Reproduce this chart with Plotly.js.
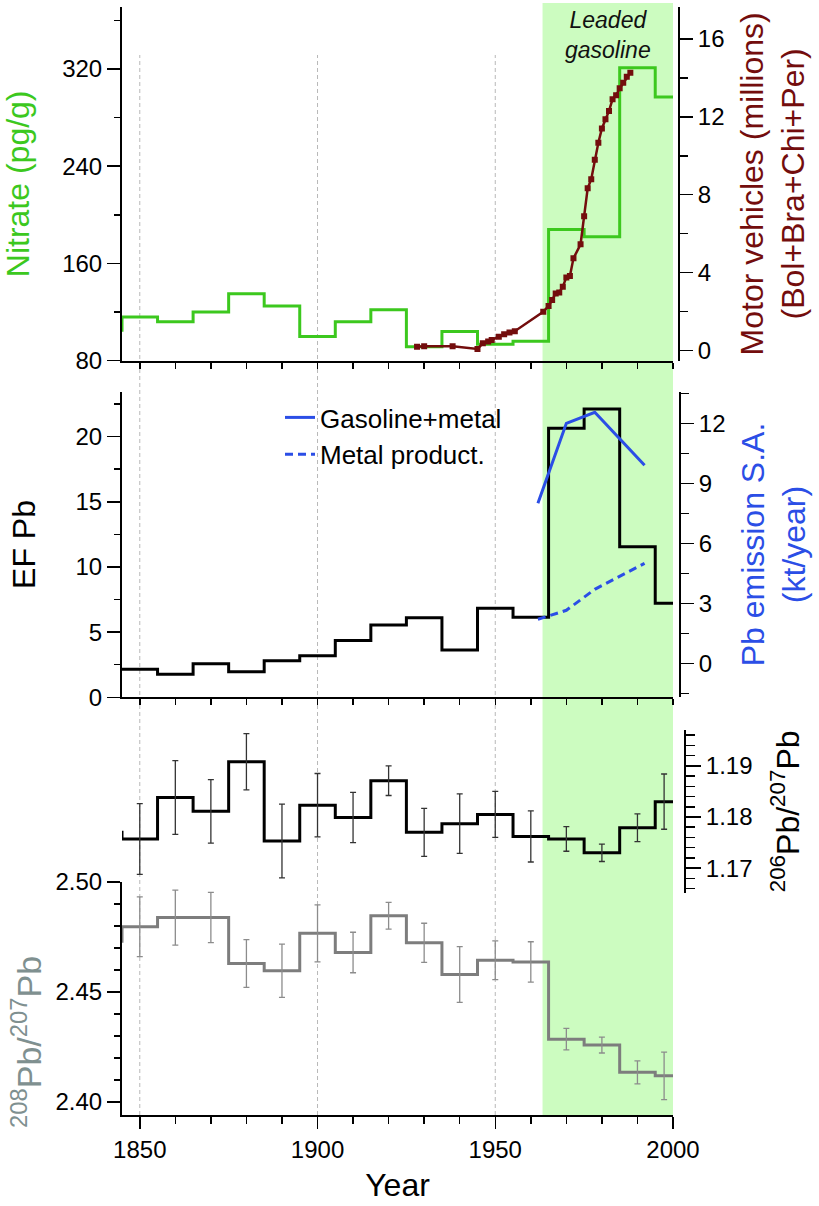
<!DOCTYPE html>
<html>
<head>
<meta charset="utf-8">
<script src="https://cdn.plot.ly/plotly-3.0.1.min.js"></script>
<style>html,body{margin:0;padding:0;background:#fff;}#chart{width:819px;height:1206px;}</style>
</head>
<body>
<div id="chart"></div>
<script>
// ---- data ----
// step bins (left edges); first is a bin before 1845 clipped by the axis, last repeats the final value
const binEdges = [1835,1845,1855,1865,1875,1885,1895,1905,1915,1925,1935,1945,1955,1965,1975,1985,1995,2005];
const nitrate  = [105,116,112,120,135,125,100,112,122,91.5,104,93.5,96,188,182,321,297,297];
const efPb     = [2.15,2.15,1.77,2.58,1.97,2.81,3.19,4.35,5.55,6.11,3.63,6.83,6.14,20.64,22.13,11.56,7.21,7.21];
const pb206    = [1.1770,1.1757,1.1838,1.1811,1.1908,1.1753,1.1823,1.1799,1.1871,1.1770,1.1787,1.1805,1.1762,1.1757,1.1730,1.1779,1.1830,1.1830];
const pb208    = [2.473,2.4796,2.4838,2.4838,2.4629,2.4596,2.4766,2.4679,2.4846,2.4723,2.4579,2.4644,2.4636,2.4285,2.4258,2.4134,2.4118,2.4118];

// sample years (bin centres) and uncertainties for the isotope ratios
const sampleYears = [1850,1860,1870,1880,1890,1900,1910,1920,1930,1940,1950,1960,1970,1980,1990,1997.5];
const pb206Err = [0.0069,0.0072,0.0062,0.0055,0.0072,0.0062,0.0049,0.0029,0.0047,0.0058,0.0045,0.0050,0.0024,0.0017,0.0027,0.0054];
const pb208Err = [0.0136,0.0125,0.0114,0.0109,0.0121,0.0130,0.0092,0.0061,0.0089,0.0127,0.0088,0.0092,0.0049,0.0036,0.0052,0.0108];

// motor vehicles (millions), Bol+Bra+Chi+Per
const mvYear = [1928,1930,1938,1945,1946.5,1948,1949,1951,1952.5,1954,1955.5,1963.5,1965,1966,1967,1968,1969,1970,1971,1972,1974,1975,1976,1977,1978,1979,1980,1981,1982,1983,1984,1985,1986,1987,1988];
const mvVal  = [0.20,0.23,0.23,0.09,0.38,0.47,0.55,0.72,0.84,0.93,1.00,2.00,2.29,2.60,2.94,2.99,3.28,3.76,3.83,4.74,5.46,6.90,8.33,8.80,9.80,10.67,11.40,11.87,12.30,12.90,13.10,13.46,13.74,14.05,14.26];

// Pb emission South America (kt/year)
const pbYear    = [1962,1970,1978,1992];
const gasMetal  = [8.0,12.0,12.55,9.9];
const metalProd = [2.2,2.65,3.7,5.0];

const gridYears = [1850,1900,1950];
const leadedStart = 1963.3, leadedEnd = 2000;

// ---- styling ----
const FONT = 'Liberation Sans, Arial, Helvetica, sans-serif';
const GREEN = '#3cc81e', DARKRED = '#730d0d', BLUE = '#2b4ee6', GRAY = '#7d7d7d', GRAYT = '#7f9090';

const sampleIdx = sampleYears.map((_, i) => i + 1);
const traces = [
  {x: binEdges, y: nitrate, xaxis: 'x', yaxis: 'y', mode: 'lines', line: {shape: 'hv', color: GREEN, width: 3}, showlegend: false},
  {x: mvYear, y: mvVal, xaxis: 'x', yaxis: 'y2', mode: 'lines+markers', line: {color: DARKRED, width: 2.5}, marker: {symbol: 'square', size: 6, color: DARKRED}, showlegend: false},
  {x: binEdges, y: efPb, xaxis: 'x2', yaxis: 'y3', mode: 'lines', line: {shape: 'hv', color: '#000', width: 3}, showlegend: false},
  {x: pbYear, y: gasMetal, xaxis: 'x2', yaxis: 'y4', mode: 'lines', name: 'Gasoline+metal', line: {color: BLUE, width: 3}},
  {x: pbYear, y: metalProd, xaxis: 'x2', yaxis: 'y4', mode: 'lines', name: 'Metal product.', line: {color: BLUE, width: 3, dash: '8px,5px'}},
  {x: binEdges, y: pb208, xaxis: 'x3', yaxis: 'y5', mode: 'lines', line: {shape: 'hv', color: GRAY, width: 3}, showlegend: false},
  {x: sampleYears, y: sampleIdx.map(i => pb208[i]), xaxis: 'x3', yaxis: 'y5', mode: 'markers', marker: {size: 1, opacity: 0},
   error_y: {type: 'data', array: pb208Err, visible: true, color: '#8c8c8c', thickness: 1.3, width: 3}, showlegend: false},
  {x: binEdges, y: pb206, xaxis: 'x3', yaxis: 'y6', mode: 'lines', line: {shape: 'hv', color: '#000', width: 3}, showlegend: false},
  {x: sampleYears, y: sampleIdx.map(i => pb206[i]), xaxis: 'x3', yaxis: 'y6', mode: 'markers', marker: {size: 1, opacity: 0},
   error_y: {type: 'data', array: pb206Err, visible: true, color: '#333', thickness: 1.3, width: 3}, showlegend: false}
];

const H = 1115; // plot area height in px (t = 0)
const py = v => (H - v) / H;
const XDOM = [0, 551 / 563];
const tickFont = {family: FONT, size: 24, color: '#000'};
const titleFont = c => ({family: FONT, size: 32, color: c});

const xCommon = {range: [1845, 2000], domain: XDOM, showline: true, linewidth: 2, linecolor: '#000',
  showgrid: false, zeroline: false, tickfont: tickFont, tickcolor: '#000', tickwidth: 1.5};
const yCommon = {showline: true, linewidth: 2, linecolor: '#000', showgrid: false, zeroline: false,
  ticks: 'outside', tickfont: tickFont, tickcolor: '#000', tickwidth: 1.5, ticklen: 13};

const layout = {
  width: 819, height: 1206,
  margin: {l: 122, r: 134, t: 0, b: 91},
  paper_bgcolor: '#fff', plot_bgcolor: 'rgba(0,0,0,0)',
  font: {family: FONT, color: '#000'},
  showlegend: true,
  legend: {x: (280 - 122) / 563, y: py(394), xanchor: 'left', yanchor: 'top', bgcolor: 'rgba(0,0,0,0)',
           font: {family: FONT, size: 26, color: '#000'}, tracegroupgap: 0},
  xaxis: Object.assign({}, xCommon, {anchor: 'y', ticks: 'outside', ticklen: 6, tick0: 1850, dtick: 10, showticklabels: false}),
  xaxis2: Object.assign({}, xCommon, {anchor: 'y3', ticks: 'outside', ticklen: 6, tick0: 1850, dtick: 10, showticklabels: false}),
  xaxis3: Object.assign({}, xCommon, {anchor: 'y5', ticks: 'outside', ticklen: 12, tick0: 1850, dtick: 50,
    minor: {dtick: 10, tick0: 1850, ticks: 'outside', ticklen: 7, tickwidth: 1.5, tickcolor: '#000'},
    title: {text: 'Year', font: titleFont('#000'), standoff: 12}}),
  yaxis: Object.assign({}, yCommon, {domain: [py(360.7), py(7)], anchor: 'x', range: [80, 371], tick0: 0, dtick: 80,
    minor: {dtick: 40, tick0: 0, ticks: 'outside', ticklen: 6, tickwidth: 1.5, tickcolor: '#000'},
    title: {text: 'Nitrate (pg/g)', font: titleFont(GREEN), standoff: 26}}),
  yaxis2: Object.assign({}, yCommon, {overlaying: 'y', side: 'right', anchor: 'free', position: (679 - 122) / 563,
    range: [-0.513, 17.63], tick0: 0, dtick: 4,
    minor: {dtick: 2, tick0: 0, ticks: 'outside', ticklen: 8, tickwidth: 1.5, tickcolor: '#000'},
    title: {text: 'Motor vehicles (millions)<br>(Bol+Bra+Chi+Per)', font: titleFont(DARKRED), standoff: 16}}),
  yaxis3: Object.assign({}, yCommon, {domain: [py(697.3), py(391.7)], anchor: 'x2', range: [0, 23.45], tick0: 0, dtick: 5,
    minor: {dtick: 2.5, tick0: 0, ticks: 'outside', ticklen: 6, tickwidth: 1.5, tickcolor: '#000'},
    title: {text: 'EF Pb', font: titleFont('#000'), standoff: 30}}),
  yaxis4: Object.assign({}, yCommon, {overlaying: 'y3', side: 'right', anchor: 'free', position: (680 - 122) / 563,
    range: [-1.7, 13.58], tick0: 0, dtick: 3,
    minor: {dtick: 1.5, tick0: 0, ticks: 'outside', ticklen: 8, tickwidth: 1.5, tickcolor: '#000'},
    title: {text: 'Pb emission S.A.<br>(kt/year)', font: titleFont(BLUE), standoff: 16}}),
  yaxis5: Object.assign({}, yCommon, {domain: [0, py(881.7)], anchor: 'x3', range: [2.394, 2.5001], tick0: 2.4, dtick: 0.05, tickformat: '.2f',
    minor: {dtick: 0.01, tick0: 2.4, ticks: 'outside', ticklen: 6, tickwidth: 1.5, tickcolor: '#000'}}),
  yaxis6: Object.assign({}, yCommon, {domain: [py(892.7), py(730)], side: 'right', anchor: 'free', position: 1,
    range: [1.1652, 1.1970], tick0: 1.17, dtick: 0.01, tickformat: '.2f', ticklen: 15,
    minor: {dtick: 0.002, tick0: 1.17, ticks: 'outside', ticklen: 9, tickwidth: 1.5, tickcolor: '#000'},
    title: {text: '<sup>206</sup>Pb/<sup>207</sup>Pb', font: titleFont('#000'), standoff: 24}}),
  shapes: [
    {type: 'rect', xref: 'x', yref: 'paper', x0: leadedStart, x1: leadedEnd, y0: 0, y1: py(3),
     fillcolor: '#ccfcc0', line: {width: 0}, layer: 'below'}
  ].concat(gridYears.map(g => ({type: 'line', xref: 'x', yref: 'paper', x0: g, x1: g, y0: 0, y1: py(55),
     line: {color: '#b8b8b8', width: 1, dash: '4px,3px'}, layer: 'below'}))),
  annotations: [
    {xref: 'x', yref: 'paper', x: (leadedStart + leadedEnd) / 2, y: py(35), text: '<i>Leaded<br>gasoline</i>',
     showarrow: false, xanchor: 'center', yanchor: 'middle', font: {family: FONT, size: 23, color: '#111'}},
    {xref: 'paper', yref: 'paper', x: (26 - 122) / 563, y: py(1042), text: '<sup>208</sup>Pb/<sup>207</sup>Pb',
     textangle: -90, showarrow: false, xanchor: 'center', yanchor: 'middle', font: {family: FONT, size: 34, color: GRAYT}}
  ]
};

Plotly.newPlot('chart', traces, layout, {staticPlot: true, displayModeBar: false});
</script>
</body>
</html>
